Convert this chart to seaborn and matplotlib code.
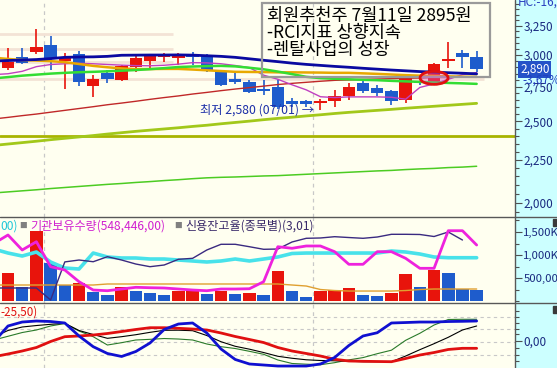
import numpy as np
import matplotlib
matplotlib.use("Agg")
import matplotlib.pyplot as plt
import matplotlib.ticker as mticker
from matplotlib.patches import Rectangle, Ellipse
from matplotlib.lines import Line2D
import seaborn as sns

sns.set_theme(style="white")
plt.rcParams["font.family"] = ["Noto Sans CJK KR", "DejaVu Sans"]
plt.rcParams["axes.unicode_minus"] = False

# ---- data ----
days = np.arange(34)            # trading days shown
line_days = np.arange(-1, 34)   # indicator lines start one day before the window
month_starts = [3, 22]          # first trading day of June / July

opens = [2893, 2984, 3025, 3083, 2953, 3008, 2756, 2857, 2797, 2906, 2953, 2986, 2973, 3000, 3000, 2870, 2808,
         2782, 2736, 2744, 2643, 2643, 2628, 2645, 2679, 2780, 2738, 2715, 2652, 2785, 2780, 2953, 3019, 2981]
closes = [2940, 2938, 3066, 2978, 2975, 2782, 2805, 2808, 2912, 2978, 2992, 3002, 3000, 2981, 2878, 2764, 2786,
          2709, 2715, 2604, 2621, 2621, 2643, 2684, 2748, 2715, 2700, 2643, 2815, 2775, 2924, 2967, 2981, 2890]
highs = [3058, 3058, 3224, 3159, 3014, 3033, 2836, 2878, 2915, 3000, 3000, 3019, 3016, 3025, 3008, 2878, 2857,
         2802, 2802, 2802, 2667, 2650, 2657, 2727, 2780, 2793, 2759, 2727, 2828, 2790, 2937, 3106, 3041, 3033]
lows = [2878, 2930, 3006, 2878, 2733, 2756, 2674, 2775, 2790, 2866, 2888, 2946, 2920, 2920, 2865, 2756, 2770,
        2700, 2688, 2590, 2604, 2604, 2580, 2604, 2652, 2700, 2679, 2618, 2628, 2760, 2759, 2893, 2893, 2866]

ma_navy = [2950, 2954, 2958, 2962, 2970, 2980, 2983, 2984, 2988, 2997, 2998, 2999, 2999, 3000, 2998, 2993, 2988, 2980,
           2968, 2956, 2945, 2933, 2923, 2915, 2907, 2900, 2892, 2885, 2878, 2872, 2866, 2862, 2857, 2853, 2848]
ma_orange = [2977, 2967, 2958, 2954, 2949, 2941, 2926, 2911, 2900, 2891, 2885, 2886, 2887, 2887, 2882, 2876, 2870, 2864,
             2863, 2862, 2860, 2860, 2859, 2858, 2856, 2856, 2852, 2848, 2843, 2838, 2834, 2831, 2829, 2826, 2825]
ma_green = [2813, 2823, 2834, 2842, 2850, 2856, 2861, 2864, 2868, 2873, 2878, 2885, 2893, 2902, 2906, 2909, 2911, 2907,
            2896, 2884, 2866, 2846, 2825, 2815, 2810, 2806, 2802, 2799, 2794, 2790, 2786, 2782, 2778, 2775, 2771]
ma_magenta = [2842, 2849, 2868, 2905, 2922, 2928, 2932, 2928, 2922, 2917, 2913, 2912, 2916, 2925, 2937, 2935, 2928, 2914,
              2897, 2838, 2806, 2764, 2726, 2675, 2669, 2674, 2674, 2674, 2671, 2657, 2744, 2771, 2806, 2842, 2858]
ma_red = [2517, 2528, 2540, 2551, 2564, 2577, 2590, 2603, 2617, 2629, 2642, 2656, 2669, 2681, 2695, 2707, 2720, 2732,
          2743, 2754, 2766, 2775, 2783, 2791, 2798, 2801, 2805, 2808, 2811, 2814, 2816, 2820, 2820, 2823, 2825]
ma_olive = [2341, 2350, 2359, 2368, 2378, 2387, 2396, 2405, 2415, 2424, 2433, 2441, 2449, 2457, 2466, 2474, 2484, 2493,
            2502, 2512, 2521, 2529, 2538, 2546, 2555, 2563, 2570, 2577, 2584, 2592, 2599, 2606, 2613, 2620, 2627]
ma_lime = [2055, 2061, 2067, 2073, 2080, 2086, 2092, 2098, 2104, 2109, 2115, 2120, 2126, 2131, 2137, 2142, 2145, 2147,
           2150, 2153, 2155, 2159, 2163, 2167, 2171, 2175, 2179, 2183, 2186, 2191, 2195, 2198, 2203, 2206, 2211]
support_price = 2400
level_prices = [3178, 3049, 2943, 2810]
level_end_day = [11.6, 11.6, 11.6, 33.5]

low_price, low_day = 2580, 22
circle_day, circle_price = 30, 2817

volume = [615, 304, 1522, 833, 348, 398, 196, 130, 304, 224, 180, 130, 224, 230, 159, 224, 159, 180, 130, 652, 224, 87,
          224, 239, 283, 130, 109, 180, 593, 304, 674, 615, 261, 239]   # in K shares
vol_cyan = [1130, 1043, 978, 1065, 848, 717, 696, 1043, 957, 935, 935, 913, 913, 891, 870, 848, 870, 913, 870, 913, 957,
            1033, 1043, 1043, 1043, 1043, 1043, 1043, 1087, 1065, 1022, 957, 941, 941, 941]
inst_holding = [1250, 1435, 1109, 1289, 746, 674, 420, 239, 224, 261, 298, 289, 283, 261, 239, 224, 261, 261, 267, 420,
                1180, 1146, 1196, 1196, 1072, 798, 798, 1072, 1072, 928, 711, 711, 1528, 1528, 1217]
credit_ratio = [283, 283, 283, 283, 22, 850, 891, 854, 963, 891, 804, 746, 783, 907, 928, 1109, 1233, 1233, 1180, 1124,
                1130, 1283, 1363, 1370, 1398, 1380, 1363, 1391, 1450, 1450, 1446, 1402, 1500, 1326, np.nan]
vol_ma = [348, 348, 348, 348, 348, 348, 348, 348, 370, 370, 370, 370, 370, 370, 370, 370, 370, 370, 370, 370, 370,
          348, 326, 250, 228, 217, 217, 217, 217, 228, 250, 261, 261, 261, 261]

rci_blue = [-2, 29.6, 37.4, 39.4, 38.4, 35.5, 9.9, -11.2, -24.6, -30.5, -20.7, -3.9, 22.7, 33.5, 35.5, 15.8, -15.8,
            -36.4, -45.3, -47.3, -49.3, -49.3, -49.3, -45.3, -32.5, -8.9, 9.9, 16.3, 35.5, 36.4, 37.4, 37.4, 38.4,
            38.8, 39.4]
rci_red = [-31, -25.6, -19.7, -12.8, -1, 8.5, 9.9, 11.8, 14.8, 18.7, 22.7, 26.2, 26.2, 25, 23.6, 21.7, 15.8, 8.9, 3,
           -3, -12.8, -19.7, -24.6, -29.6, -36, -39.4, -40, -40.4, -40.8, -34.5, -27.6, -22.7, -16.7, -14.4, -14.4]
rci_black = [8, 20.7, 27.6, 30.5, 32.9, 34.9, 20.7, 12.8, 5.3, 8.5, 12.4, 17.1, 21.1, 21.3, 20.3, 10.8, -1.4, -10.4,
             -16.1, -22.7, -30.1, -34, -37, -38.4, -39, -39.8, -40.8, -40.8, -40.8, -29.6, -17.1, -5.3, 7.3, 21.7, 29.6]
rci_green = [2, 9.3, 16.7, 21.7, 29.6, 34.5, 19.7, 8.5, -7.9, -3.3, 2, 3.3, 4.9, 3.9, 2, -5.9, -11.2, -14.8, -20.3,
             -26.2, -37.4, -44.3, -45.7, -46.7, -42.7, -37.2, -32.7, -25, -18.1, 1.4, 15.2, 31.5, 42.4, 42.8, 42.8]
rci_grid = [47, 24, -2, -27]

price_ticks = [2000, 2250, 2500, 2750, 3000, 3250]
vol_ticks = [500, 1000, 1500]
vol_labels = ["500,00", "1,000K", "1,500K"]

# ---- figure ----
W, H = 557, 368
BG = "#fffff0"
RED, BLUE = "#e8140c", "#1e5ccc"
TICK_TXT = "#1a2a80"

fig = plt.figure(figsize=(W / 100, H / 100), dpi=100, facecolor="#ccffff")


def px_axes(x0, y0, x1, y1):
    return fig.add_axes([x0 / W, 1 - y1 / H, (x1 - x0) / W, (y1 - y0) / H])


ax_p = px_axes(0, 0, 515, 217)
ax_v = px_axes(0, 217, 515, 303)
ax_r = px_axes(0, 303, 515, 368)

for ax in (ax_p, ax_v, ax_r):
    ax.set_facecolor(BG)
    for s in ax.spines.values():
        s.set_visible(False)
    ax.set_xticks([])
    ax.yaxis.tick_right()
    ax.tick_params(axis="y", which="both", right=True, left=False, labelright=True, labelleft=False,
                   direction="out", color="#505050", width=0.8, labelcolor=TICK_TXT, labelsize=8.5, pad=1)
    ax.tick_params(axis="y", which="major", length=5)
    ax.tick_params(axis="y", which="minor", length=3)
    for d in month_starts:
        ax.axvline(d - 0.5, color="#c8c8c8", lw=0.9, ls=(0, (3, 3)), zorder=1)

# ---- price panel ----
ax_p.set_yscale("log")
ax_p.hlines(level_prices, -1, level_end_day, color="#f3e3d6", lw=2, zorder=1)
ax_p.axhline(support_price, color="#a8b400", lw=2, zorder=2)

line_specs = [
    (ma_lime, "#4ccc22", 1.1), (ma_olive, "#a2c81a", 2.0), (ma_red, "#c02828", 1.0),
    (ma_magenta, "#c040c0", 1.0), (ma_orange, "#e8a800", 1.8), (ma_green, "#33dd33", 1.8),
    (ma_navy, "#0a0aa0", 2.0),
]
for vals, col, lw in line_specs:
    sns.lineplot(x=line_days, y=vals, ax=ax_p, color=col, lw=lw, zorder=4)

o, c = np.array(opens), np.array(closes)
ccol = np.where(c >= o, RED, BLUE)
ax_p.vlines(days, lows, highs, colors=ccol, lw=1.2, zorder=3)
ax_p.bar(days, np.maximum(np.abs(c - o), 14), bottom=np.minimum(o, c), width=0.88, color=ccol,
         linewidth=0, zorder=3)

ax_p.set_xlim(-0.563, 35.7)
ax_p.set_ylim(1924, 3487)
ax_p.set_yticks(price_ticks)
ax_p.yaxis.set_major_formatter(mticker.FuncFormatter(lambda v, _: f"{v:,.0f}"))
ax_p.yaxis.set_minor_locator(mticker.FixedLocator(np.arange(1950, 3451, 50)))
ax_p.yaxis.set_minor_formatter(mticker.NullFormatter())
ax_p.set_ylabel("")

ax_p.text(low_day - 0.45, low_price, "최저 2,580 (07/01) →", color="#1c2fa8", fontsize=8.8,
          ha="right", va="center", zorder=6)

# annotation box
ax_p.add_patch(Rectangle((262 / 515, 1 - 77 / 217), 228 / 515, 74 / 217, transform=ax_p.transAxes,
                         fill=False, edgecolor="#9a9a9a", lw=1.6, zorder=7))
for txt, ypx in (("회원추천주 7월11일 2895원", 16), ("-RCI지표 상향지속", 33), ("-렌탈사업의 성장", 50)):
    ax_p.text(267 / 515, 1 - ypx / 217, txt, transform=ax_p.transAxes, fontsize=12.6, color="black",
              ha="left", va="center", zorder=7)

# red ellipse around the breakout candle
cx, cy = ax_p.transData.transform((circle_day, circle_price))
ax_p.add_artist(Ellipse((cx, cy), 28, 13, transform=None, facecolor=(0.9, 0.35, 0.85, 0.35),
                        edgecolor="#e01010", lw=2, zorder=8))

# ---- volume panel ----
vol = np.array(volume)
vcol = [RED] + [RED if vol[i] >= vol[i - 1] else BLUE for i in range(1, len(vol))]
ax_v.bar(days, vol, width=0.88, color=vcol, linewidth=0, zorder=3)
sns.lineplot(x=line_days, y=vol_ma, ax=ax_v, color="#e0a030", lw=1.0, zorder=4)
sns.lineplot(x=line_days, y=vol_cyan, ax=ax_v, color="#48e2ea", lw=2.6, zorder=4)
sns.lineplot(x=line_days, y=credit_ratio, ax=ax_v, color="#3a2a80", lw=1.0, zorder=4)
sns.lineplot(x=line_days, y=inst_holding, ax=ax_v, color="#ee22dd", lw=2.0, zorder=5)
ax_v.set_xlim(-0.563, 35.7)
ax_v.set_ylim(-43, 1826)
ax_v.set_yticks(vol_ticks)
ax_v.set_yticklabels(vol_labels)
ax_v.tick_params(axis="y", labelsize=8.2)
ax_v.yaxis.set_minor_locator(mticker.FixedLocator([0, 250, 750, 1250, 1750]))
ax_v.set_ylabel("")

ly = (303 - 226) / 86
for xpx, txt, col, fs in ((0, "00)", "#22c8d8", 8.7), (19, "■", "#808080", 5.5),
                          (30, "기관보유수량(548,446,00)", "#d020d0", 8.7), (174, "■", "#808080", 5.5),
                          (185, "신용잔고율(종목별)(3,01)", "#3a2a6a", 8.7)):
    ax_v.text(xpx / 515, ly, txt, transform=ax_v.transAxes, color=col, fontsize=fs, ha="left", va="center", zorder=6)

# ---- RCI panel ----
for g in rci_grid:
    ax_r.axhline(g, color="#c8c8c8", lw=0.8, ls=(0, (3, 3)), zorder=1)
sns.lineplot(x=line_days, y=rci_green, ax=ax_r, color="#2a7a2a", lw=0.8, zorder=3)
sns.lineplot(x=line_days, y=rci_black, ax=ax_r, color="black", lw=0.8, zorder=3)
sns.lineplot(x=line_days, y=rci_red, ax=ax_r, color="#e01010", lw=2.0, zorder=4)
sns.lineplot(x=line_days, y=rci_blue, ax=ax_r, color="#1010d0", lw=2.0, zorder=5)
ax_r.set_xlim(-0.563, 35.7)
ax_r.set_ylim(-53.2, 74.9)
ax_r.set_yticks([0])
ax_r.set_yticklabels(["0,00"])
ax_r.yaxis.set_minor_locator(mticker.FixedLocator([-40, -27, -13, 13, 24, 36, 47, 60]))
ax_r.set_ylabel("")
ax_r.text(0, (368 - 312) / 65, "-25,50)", transform=ax_r.transAxes, color="#e01010", fontsize=8.4,
          ha="left", va="center")

# ---- frame lines & right-hand labels ----
for ypx in (217, 303):
    fig.add_artist(Line2D([0, 1], [1 - ypx / H] * 2, transform=fig.transFigure, color="#585858", lw=1))
fig.add_artist(Line2D([515 / W] * 2, [0, 1], transform=fig.transFigure, color="#585858", lw=1))
for ypx in (219, 306):
    fig.add_artist(Rectangle((553 / W, 1 - (ypx + 7) / H), 5 / W, 7 / H, transform=fig.transFigure,
                             color="#3a3a3a"))

fig.text(518 / W, 1 - 2 / H, "HC:-16,", color="#2a40c0", fontsize=8.5, ha="left", va="center")
fig.text(520 / W, 1 - 69.5 / H, "2,890", color="white", fontsize=8.5, ha="left", va="center",
         bbox=dict(boxstyle="square,pad=0.15", facecolor="#2452c8", edgecolor="none"))
fig.text(522 / W, 1 - 80 / H, "-3,67%", color="#2040c0", fontsize=8.5, ha="left", va="center")

fig.savefig("out.png", dpi=100, facecolor=fig.get_facecolor())
